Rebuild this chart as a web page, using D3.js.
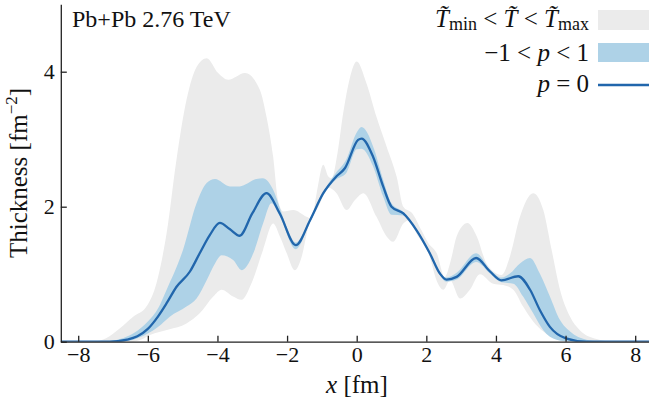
<!DOCTYPE html>
<html>
<head>
<meta charset="utf-8">
<script src="https://cdn.jsdelivr.net/npm/d3@7"></script>
<style>
  body { margin: 0; background: #fff; }
  svg { display: block; }
  svg text { font-family: "Liberation Serif", "Times New Roman", Tinos, "DejaVu Serif", "Noto Serif", serif; fill: #111; }
</style>
</head>
<body>
<script>
// thickness profiles, [x in fm, T in fm^-2]
const pLine = [[-8.5,0],[-7.1,0],[-6.6,0.03],[-6.3,0.08],[-6.0,0.19],[-5.7,0.38],[-5.46,0.57],
  [-5.18,0.81],[-4.79,1.04],[-4.51,1.31],[-4.22,1.58],[-3.93,1.76],[-3.65,1.67],[-3.36,1.57],
  [-3.0,1.9],[-2.59,2.2],[-2.21,1.9],[-1.75,1.43],[-1.34,1.8],[-0.96,2.2],[-0.58,2.45],
  [-0.34,2.57],[0.04,2.99],[0.14,3.01],[0.47,2.74],[0.76,2.3],[1.0,2.0],[1.34,1.9],[1.72,1.65],
  [2.1,1.31],[2.39,1.01],[2.58,0.92],[2.87,0.96],[3.43,1.24],[3.83,1.04],[4.16,0.91],[4.64,0.97],
  [4.98,0.77],[5.26,0.47],[5.55,0.22],[6.01,0.05],[6.6,0],[8.5,0]];

const blueHi = [[-8.5,0],[-7.3,0],[-6.8,0.04],[-6.4,0.13],[-6.0,0.3],[-5.7,0.5],[-5.46,0.77],
  [-4.99,1.36],[-4.6,2.05],[-4.31,2.35],[-4.07,2.41],[-3.64,2.3],[-3.36,2.3],[-2.88,2.41],
  [-2.7,2.42],[-2.4,2.25],[-2.2,1.97],[-2.0,1.68],[-1.75,1.47],[-1.5,1.64],[-1.34,1.82],
  [-0.96,2.22],[-0.6,2.5],[-0.3,2.7],[0.0,3.1],[0.14,3.18],[0.3,3.1],[0.5,2.85],[0.76,2.4],
  [1.0,2.05],[1.34,1.92],[1.72,1.67],[2.1,1.33],[2.39,1.03],[2.58,0.95],[2.87,1.02],[3.43,1.31],
  [3.83,1.07],[4.16,0.95],[4.4,1.01],[4.69,1.16],[4.98,1.24],[5.26,1.01],[5.55,0.67],[5.84,0.32],
  [6.13,0.15],[6.6,0.03],[7.2,0],[8.5,0]];

const blueLo = [[-8.5,0],[-6.8,0],[-6.42,0.03],[-6.0,0.12],[-5.7,0.22],[-5.37,0.37],[-4.89,0.52],
  [-4.6,0.64],[-4.31,0.91],[-4.07,1.16],[-3.88,1.28],[-3.55,1.21],[-3.3,1.06],[-2.97,1.31],
  [-2.69,1.75],[-2.45,2.05],[-2.21,1.86],[-1.75,1.37],[-1.34,1.77],[-0.96,2.17],[-0.6,2.4],
  [-0.3,2.5],[0.0,2.85],[0.14,2.86],[0.47,2.6],[0.76,2.15],[1.0,1.88],[1.34,1.87],[1.72,1.63],
  [2.1,1.29],[2.39,0.99],[2.58,0.89],[2.87,0.92],[3.43,1.18],[3.83,1.01],[4.16,0.88],[4.5,0.86],
  [4.78,0.67],[5.07,0.42],[5.36,0.17],[5.74,0.03],[6.2,0],[8.5,0]];

const grayHi = [[-8.5,0],[-7.6,0],[-7.2,0.05],[-6.8,0.2],[-6.42,0.37],[-6.04,0.52],[-5.75,0.87],
  [-5.46,1.61],[-5.18,2.69],[-4.89,3.58],[-4.6,4.07],[-4.31,4.2],[-3.98,3.98],[-3.69,3.88],
  [-3.21,3.98],[-2.78,3.73],[-2.59,3.33],[-2.4,2.74],[-2.26,2.1],[-2.11,1.93],[-1.82,1.95],
  [-1.44,1.85],[-1.3,1.82],[-1.15,2.2],[-0.96,2.62],[-0.82,2.45],[-0.72,2.42],[-0.55,2.8],
  [-0.39,3.38],[-0.2,3.9],[0.0,4.15],[0.28,3.83],[0.57,3.33],[0.86,2.89],[1.15,2.44],[1.34,2.0],
  [1.6,1.9],[1.86,1.65],[2.06,1.46],[2.3,1.31],[2.53,0.96],[2.7,1.2],[2.87,1.56],[3.18,1.76],
  [3.45,1.56],[3.73,1.16],[4.16,0.99],[4.4,1.26],[4.69,1.85],[5.07,2.2],[5.36,1.95],[5.6,1.36],
  [5.84,0.77],[6.13,0.37],[6.41,0.17],[6.89,0.04],[7.4,0],[8.5,0]];

const grayLo = [[-8.5,0],[-6.5,0],[-6.2,0.03],[-5.94,0.1],[-5.4,0.18],[-4.89,0.27],[-4.51,0.42],
  [-4.12,0.67],[-3.88,0.77],[-3.55,0.67],[-3.31,0.62],[-3.02,0.87],[-2.69,1.36],[-2.4,1.75],
  [-2.2,1.55],[-2.01,1.31],[-1.78,1.06],[-1.58,1.26],[-1.39,1.7],[-1.1,2.0],[-0.8,2.28],
  [-0.58,2.2],[-0.29,1.95],[-0.05,2.1],[0.19,2.2],[0.57,1.85],[0.86,1.56],[1.05,1.48],[1.34,1.75],
  [1.5,1.8],[1.72,1.6],[2.1,1.25],[2.3,0.9],[2.49,0.77],[2.68,0.91],[2.97,0.64],[3.25,0.77],
  [3.54,1.0],[3.92,0.86],[4.21,0.84],[4.5,0.77],[4.78,0.52],[5.07,0.3],[5.36,0.15],[5.74,0.04],
  [6.2,0],[8.5,0]];

const xTicks = [-8, -6, -4, -2, 0, 2, 4, 6, 8];
const yTicks = [0, 2, 4];

const W = 649, H = 406;
const plot = {left: 60.8, right: 652.6, top: 4.2, bottom: 341.7};
const serif = '"Liberation Serif", "Times New Roman", Tinos, "DejaVu Serif", serif';

const colors = {gray: "#ebebeb", blue: "#aed2e7", line: "#2166ac", axis: "#222"};

const svg = d3.select("body").append("svg")
  .attr("width", W).attr("height", H);

const x = d3.scaleLinear().domain([-8.5, 8.5]).range([plot.left, plot.right]);
const y = d3.scaleLinear().domain([0, 5]).range([plot.bottom, plot.top]);

svg.append("clipPath").attr("id", "clip")
  .append("rect").attr("x", plot.left).attr("y", 0)
  .attr("width", W - plot.left).attr("height", plot.bottom);

const line = d3.line().x(d => x(d[0])).y(d => y(d[1])).curve(d3.curveMonotoneX);

// band = upper edge, then lower edge walked back
function bandPath(hi, lo) {
  const back = lo.slice().reverse();
  return line(hi) + "L" + line(back).slice(1) + "Z";
}

const g = svg.append("g").attr("clip-path", "url(#clip)");
g.append("path").attr("d", bandPath(grayHi, grayLo)).attr("fill", colors.gray);
g.append("path").attr("d", bandPath(blueHi, blueLo)).attr("fill", colors.blue);
g.append("path").attr("d", line(pLine)).attr("fill", "none")
  .attr("stroke", colors.line).attr("stroke-width", 2.3);

const fmt = d => (d < 0 ? "\u2212" + Math.abs(d) : String(d));

const xAxis = svg.append("g").attr("transform", `translate(0,${plot.bottom})`)
  .call(d3.axisBottom(x).tickValues(xTicks).tickFormat(fmt).tickSizeInner(-6).tickSizeOuter(0));
xAxis.attr("font-family", null);
xAxis.selectAll("text").attr("y", 20).attr("dy", 0).attr("font-size", 22);

const yAxis = svg.append("g").attr("transform", `translate(${plot.left},0)`)
  .call(d3.axisLeft(y).tickValues(yTicks).tickFormat(fmt).tickSizeInner(-6).tickSizeOuter(0));
yAxis.attr("font-family", null);
yAxis.selectAll("text").attr("x", -6).attr("dy", "0.3em").attr("font-size", 22);

svg.selectAll(".domain, .tick line").attr("stroke", colors.axis).attr("stroke-width", 1.3);

// labels
svg.append("text").attr("x", 72).attr("y", 26.5).attr("font-size", 24).text("Pb+Pb 2.76 TeV");

const xl = svg.append("text").attr("x", 357).attr("y", 393).attr("font-size", 25)
  .attr("text-anchor", "middle");
xl.append("tspan").attr("font-style", "italic").text("x");
xl.append("tspan").text(" [fm]");

const yl = svg.append("text").attr("transform", "translate(27,173) rotate(-90)")
  .attr("font-size", 25).attr("text-anchor", "middle");
yl.append("tspan").text("Thickness [fm");
yl.append("tspan").attr("font-size", 17).attr("dy", -10).text("\u22122");
yl.append("tspan").attr("dy", 10).text("]");

// legend
const lx = 589, sw = {x: 598, w: 70};
const l1 = svg.append("text").attr("x", lx).attr("y", 27).attr("font-size", 25)
  .attr("text-anchor", "end").attr("xml:space", "preserve");
l1.append("tspan").attr("font-style", "italic").text("T\u0303");
l1.append("tspan").attr("font-size", 18).attr("dy", 3).text("min");
l1.append("tspan").attr("dy", -3).text(" < ");
l1.append("tspan").attr("font-style", "italic").text("T\u0303");
l1.append("tspan").text(" < ");
l1.append("tspan").attr("font-style", "italic").text("T\u0303");
l1.append("tspan").attr("font-size", 18).attr("dy", 3).text("max");
svg.append("rect").attr("x", sw.x).attr("y", 10).attr("width", sw.w).attr("height", 20)
  .attr("fill", colors.gray);

const l2 = svg.append("text").attr("x", lx).attr("y", 61).attr("font-size", 25)
  .attr("text-anchor", "end").attr("xml:space", "preserve");
l2.append("tspan").text("\u22121 < ");
l2.append("tspan").attr("font-style", "italic").text("p");
l2.append("tspan").text(" < 1");
svg.append("rect").attr("x", sw.x).attr("y", 43).attr("width", sw.w).attr("height", 19)
  .attr("fill", colors.blue);

const l3 = svg.append("text").attr("x", lx).attr("y", 92).attr("font-size", 25)
  .attr("text-anchor", "end").attr("xml:space", "preserve");
l3.append("tspan").attr("font-style", "italic").text("p");
l3.append("tspan").text(" = 0");
svg.append("line").attr("x1", sw.x).attr("x2", sw.x + sw.w).attr("y1", 85).attr("y2", 85)
  .attr("stroke", colors.line).attr("stroke-width", 2.3);

svg.selectAll("text").attr("font-family", serif);
</script>
</body>
</html>
